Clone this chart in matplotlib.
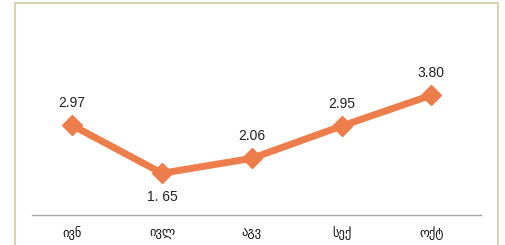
import matplotlib
matplotlib.use("Agg")
import matplotlib.pyplot as plt
from matplotlib.patches import Rectangle

# === data ===
months = ["ივნ", "ივლ", "აგვ", "სექ", "ოქტ"]
values = [2.97, 1.65, 2.06, 2.95, 3.80]
value_labels = ["2.97", "1. 65", "2.06", "2.95", "3.80"]
label_below = [False, True, False, False, False]

orange = "#ED7D4A"

fig = plt.figure(figsize=(5.05, 2.45), dpi=100)
ax = fig.add_axes([0.063, 0.1224, 0.889, 0.815])

x = list(range(len(months)))
ax.plot(x, values, color=orange, lw=5, marker="D", ms=10,
        markerfacecolor=orange, markeredgecolor=orange, solid_joinstyle="miter")

for xi, v, lab, below in zip(x, values, value_labels, label_below):
    dy = -17 if below else 16
    ax.annotate(lab, (xi, v), xytext=(0, dy), textcoords="offset points",
                ha="center", va="center", fontsize=10, color="#222222",
                family=["Liberation Sans Narrow", "Liberation Sans", "DejaVu Sans"])

ax.set_xlim(-0.45, 4.55)
ax.set_ylim(0.5, 6.0)
ax.set_xticks(x)
ax.set_xticklabels(months, fontsize=9, family=["DejaVu Sans"], color="#111111")
ax.tick_params(axis="x", length=0, pad=8)
ax.set_yticks([])
for side in ["top", "left", "right"]:
    ax.spines[side].set_visible(False)
ax.spines["bottom"].set_color("#a8a8a8")
ax.spines["bottom"].set_linewidth(1.0)

# outer frame
fig.patches.append(Rectangle((15 / 505, -0.1), 483 / 505, 1.1 - 3 / 245,
                             transform=fig.transFigure, fill=False,
                             edgecolor="#d8d5ac", lw=1.5))

fig.savefig("out.png", dpi=100)
